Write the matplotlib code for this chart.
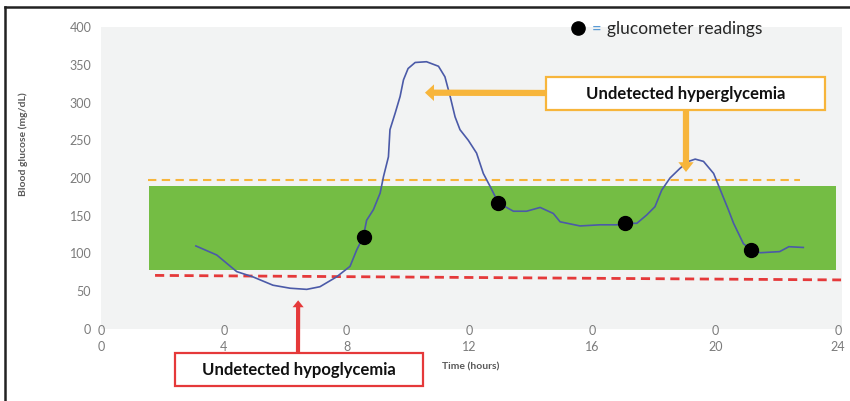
import numpy as np
import matplotlib.pyplot as plt
from matplotlib.patches import Rectangle
from matplotlib.lines import Line2D

plt.rcParams['font.family'] = ['Lato', 'DejaVu Sans']

# CGM trace (hours, mg/dL)
time_h = [3.09, 3.77, 4.42, 4.95, 5.6, 6.16, 6.7, 7.13, 7.67, 8.11, 8.33, 8.54,
          8.65, 8.87, 9.09, 9.2, 9.36, 9.41, 9.58, 9.74, 9.85, 10.0, 10.23, 10.6,
          10.99, 11.2, 11.37, 11.53, 11.69, 11.96, 12.23, 12.45, 12.67, 12.94,
          13.43, 13.86, 14.3, 14.73, 14.95, 15.6, 16.25, 16.8, 17.05, 17.45,
          17.77, 18.04, 18.26, 18.53, 18.86, 19.13, 19.35, 19.62, 19.95, 20.21,
          20.43, 20.6, 20.92, 21.17, 21.47, 22.1, 22.4, 22.87]
glucose = [110, 98, 76, 69, 58, 54, 52.5, 56, 69, 83, 105, 122,
           144, 158, 180, 202, 228, 264, 286, 308, 330, 345, 353, 354,
           348, 334, 308, 281, 264, 250, 233, 206, 189, 167,
           156, 156, 161, 153, 142, 136.5, 138, 138, 140, 140,
           151, 162, 184, 200, 213, 222, 225, 222, 206, 180,
           158, 140, 113, 105, 101, 102.5, 109, 108]

# glucometer readings
reading_h = [8.55, 12.94, 17.05, 21.17]
reading_mg = [122, 167, 140, 105]

# target band and thresholds
band_x = [1.56, 23.94]
band_y = [78, 190]
hyper_x = [1.53, 22.77]
hyper_y = [198, 198]
hypo_x = [1.76, 24.1]
hypo_y = [71, 65]

x_ticks = [0, 4, 8, 12, 16, 20, 24]
y_ticks = [0, 50, 100, 150, 200, 250, 300, 350, 400]

W, H = 850, 401
fig = plt.figure(figsize=(W / 100, H / 100), dpi=100)
fig.patch.set_facecolor('white')


def px(x, y):
    # pixel position from top-left -> figure fraction
    return x / W, 1 - y / H


ax = fig.add_axes([101 / W, (H - 329) / H, (842 - 101) / W, (329 - 27) / H])
ax.set_facecolor('#f2f3f3')
for s in ax.spines.values():
    s.set_visible(False)
ax.set_xlim(0, 24 * 741 / 737)
ax.set_ylim(0, 400)

ax.add_patch(Rectangle((band_x[0], band_y[0]), band_x[1] - band_x[0],
                       band_y[1] - band_y[0], color='#74bd44', lw=0, zorder=1))
ax.plot(hyper_x, hyper_y, color='#f7b53b', lw=1.5, dashes=(4, 2.6), zorder=2)
ax.plot(hypo_x, hypo_y, color='#e5393a', lw=2, dashes=(3.3, 2), zorder=2)
ax.plot(time_h, glucose, color='#4b5aa8', lw=1.2, zorder=3,
        solid_joinstyle='round')
ax.plot(reading_h, reading_mg, 'o', color='black', ms=10, zorder=4)

ax.set_xticks(x_ticks)
ax.set_xticklabels(['0\n%d' % t for t in x_ticks], linespacing=1.45)
ax.set_yticks(y_ticks)
ax.tick_params(length=0, labelsize=9, colors='#7b7b7b')
ax.tick_params(axis='x', pad=-3)
ax.tick_params(axis='y', pad=7)

fig.text(*px(23, 144), 'Blood glucose (mg/dL)', rotation=90, ha='center',
         va='center', fontsize=7.5, fontweight='bold', color='#595959')
fig.text(*px(471, 367), 'Time (hours)', ha='center', va='center',
         fontsize=7.5, fontweight='bold', color='#595959')

# legend
fig.add_artist(Line2D([578 / W], [1 - 28 / H], marker='o', color='black',
                      ms=9.5, transform=fig.transFigure))
fig.text(*px(592, 29), '=', ha='left', va='center', fontsize=12, color='#5b9bd5')
fig.text(*px(607, 29), 'glucometer readings', ha='left', va='center',
         fontsize=12.5, color='#262626')


def callout(x0, y0, x1, y1, label, edge):
    fx0, fy1 = px(x0, y1)
    fig.add_artist(Rectangle((fx0, fy1), (x1 - x0) / W, (y1 - y0) / H,
                             transform=fig.transFigure, facecolor='white',
                             edgecolor=edge, lw=1.6, zorder=5))
    fig.text(*px((x0 + x1) / 2, (y0 + y1) / 2 + 1), label, ha='center',
             va='center', fontsize=12, fontweight='bold', color='#111111',
             zorder=6)


callout(546, 77, 825, 110, 'Undetected hyperglycemia', '#f7b53b')
callout(175, 353, 423, 386, 'Undetected hypoglycemia', '#e5393a')

# arrows from the call-outs
ax.annotate('', xy=(10.55, 313), xycoords='data',
            xytext=(547, H - 93), textcoords='figure pixels',
            arrowprops=dict(facecolor='#f7b53b', edgecolor='none', width=4.5,
                            headwidth=12, headlength=6.5, shrink=0))
ax.annotate('', xy=(19.05, 208), xycoords='data',
            xytext=(686, H - 111), textcoords='figure pixels',
            arrowprops=dict(facecolor='#f7b53b', edgecolor='none', width=4.5,
                            headwidth=11, headlength=7, shrink=0))
ax.annotate('', xy=(6.42, 38), xycoords='data',
            xytext=(298, H - 352), textcoords='figure pixels',
            arrowprops=dict(facecolor='#e5393a', edgecolor='none', width=3,
                            headwidth=8, headlength=5, shrink=0))

# frame lines left and top
fig.add_artist(Line2D([5 / W, 5 / W], [0, 1 - 7 / H], color='#222222', lw=1.8,
                      transform=fig.transFigure))
fig.add_artist(Line2D([5 / W, 1], [1 - 7 / H, 1 - 7 / H], color='#222222',
                      lw=1.8, transform=fig.transFigure))

fig.savefig('out.png', dpi=100)
